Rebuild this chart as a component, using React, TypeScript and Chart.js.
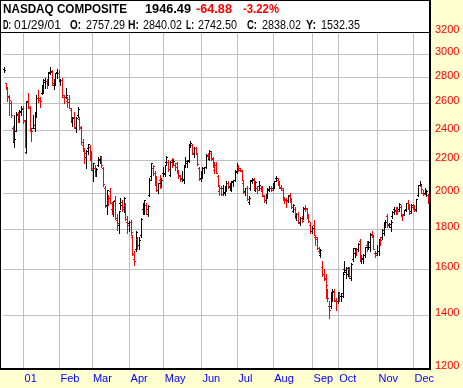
import React, { useEffect, useRef } from "react";
import { Chart, registerables } from "chart.js";

Chart.register(...registerables);

// Trading days (MM/DD/YY), 13 Dec 2000 .. 13 Dec 2001
const dates = [
  "12/13/00","12/14/00","12/15/00","12/18/00","12/19/00","12/20/00","12/21/00","12/22/00","12/26/00","12/27/00","12/28/00","12/29/00",
  "01/02/01","01/03/01","01/04/01","01/05/01","01/08/01","01/09/01","01/10/01","01/11/01","01/12/01","01/16/01","01/17/01","01/18/01","01/19/01","01/22/01","01/23/01","01/24/01","01/25/01","01/26/01","01/29/01","01/30/01","01/31/01",
  "02/01/01","02/02/01","02/05/01","02/06/01","02/07/01","02/08/01","02/09/01","02/12/01","02/13/01","02/14/01","02/15/01","02/16/01","02/20/01","02/21/01","02/22/01","02/23/01","02/26/01","02/27/01","02/28/01",
  "03/01/01","03/02/01","03/05/01","03/06/01","03/07/01","03/08/01","03/09/01","03/12/01","03/13/01","03/14/01","03/15/01","03/16/01","03/19/01","03/20/01","03/21/01","03/22/01","03/23/01","03/26/01","03/27/01","03/28/01","03/29/01","03/30/01",
  "04/02/01","04/03/01","04/04/01","04/05/01","04/06/01","04/09/01","04/10/01","04/11/01","04/12/01","04/16/01","04/17/01","04/18/01","04/19/01","04/20/01","04/23/01","04/24/01","04/25/01","04/26/01","04/27/01","04/30/01",
  "05/01/01","05/02/01","05/03/01","05/04/01","05/07/01","05/08/01","05/09/01","05/10/01","05/11/01","05/14/01","05/15/01","05/16/01","05/17/01","05/18/01","05/21/01","05/22/01","05/23/01","05/24/01","05/25/01","05/29/01","05/30/01","05/31/01",
  "06/01/01","06/04/01","06/05/01","06/06/01","06/07/01","06/08/01","06/11/01","06/12/01","06/13/01","06/14/01","06/15/01","06/18/01","06/19/01","06/20/01","06/21/01","06/22/01","06/25/01","06/26/01","06/27/01","06/28/01","06/29/01",
  "07/02/01","07/03/01","07/05/01","07/06/01","07/09/01","07/10/01","07/11/01","07/12/01","07/13/01","07/16/01","07/17/01","07/18/01","07/19/01","07/20/01","07/23/01","07/24/01","07/25/01","07/26/01","07/27/01","07/30/01","07/31/01",
  "08/01/01","08/02/01","08/03/01","08/06/01","08/07/01","08/08/01","08/09/01","08/10/01","08/13/01","08/14/01","08/15/01","08/16/01","08/17/01","08/20/01","08/21/01","08/22/01","08/23/01","08/24/01","08/27/01","08/28/01","08/29/01","08/30/01","08/31/01",
  "09/04/01","09/05/01","09/06/01","09/07/01","09/10/01","09/17/01","09/18/01","09/19/01","09/20/01","09/21/01","09/24/01","09/25/01","09/26/01","09/27/01","09/28/01",
  "10/01/01","10/02/01","10/03/01","10/04/01","10/05/01","10/08/01","10/09/01","10/10/01","10/11/01","10/12/01","10/15/01","10/16/01","10/17/01","10/18/01","10/19/01","10/22/01","10/23/01","10/24/01","10/25/01","10/26/01","10/29/01","10/30/01","10/31/01",
  "11/01/01","11/02/01","11/05/01","11/06/01","11/07/01","11/08/01","11/09/01","11/12/01","11/13/01","11/14/01","11/15/01","11/16/01","11/19/01","11/20/01","11/21/01","11/23/01","11/26/01","11/27/01","11/28/01","11/29/01","11/30/01",
  "12/03/01","12/04/01","12/05/01","12/06/01","12/07/01","12/10/01","12/11/01","12/12/01","12/13/01",
];

const opens = [
  2870,2755,2710,2650,2600,2420,2320,2400,2510,2480,2530,2560,
  2474,2255,2610,2570,2400,2420,2420,2510,2640,2640,2680,2700,2780,2770,2760,2850,2850,2740,2757.29,2850,2840,
  2770,2780,2650,2650,2620,2630,2550,2470,2500,2420,2510,2480,2420,2300,2270,2220,2280,2290,2220,
  2140,2150,2130,2170,2210,2220,2150,2030,1930,1960,2010,1910,1900,1960,1850,1820,1940,1950,1910,1930,1840,1830,
  1840,1760,1650,1700,1750,1720,1770,1910,1890,1930,1880,1990,2100,2150,2120,2060,2020,2080,2060,2120,
  2120,2190,2190,2110,2200,2200,2170,2180,2130,2100,2090,2080,2170,2180,2200,2310,2300,2250,2280,2240,2150,2090,
  2110,2150,2160,2230,2210,2250,2210,2140,2170,2100,2010,2030,2030,2000,2030,2060,2040,2020,2070,2080,2130,
  2160,2140,2130,2060,2010,2030,1950,2030,2070,2080,2020,2030,2040,2030,2030,1980,1960,1990,2020,2030,2030,
  2040,2090,2080,2060,2030,2020,1960,1960,1960,1990,1960,1900,1910,1870,1880,1840,1860,1860,1910,1910,1870,1820,1790,
  1820,1760,1750,1690,1670,1610,1580,1560,1500,1440,1440,1500,1500,1460,1460,
  1490,1480,1480,1600,1590,1580,1600,1560,1650,1680,1690,1700,1740,1640,1650,1670,1720,1710,1710,1770,1760,1680,1680,
  1690,1740,1760,1780,1820,1870,1820,1810,1870,1910,1900,1910,1910,1920,1870,1880,1910,1940,1920,1900,1920,
  1910,1910,1990,2050,2040,2000,2000,2010,1990,
];

const highs = [
  2885,2760,2720,2660,2620,2430,2510,2530,2530,2550,2580,2580,
  2474,2618,2680,2580,2420,2510,2530,2660,2700,2650,2740,2790,2800,2790,2850,2892,2860,2790,2840.02,2870,2860,
  2790,2800,2660,2720,2650,2660,2560,2500,2530,2500,2570,2500,2430,2340,2280,2270,2310,2300,2260,
  2185,2170,2150,2220,2230,2230,2160,2040,2015,1990,2030,1950,1955,1980,1880,1900,1970,1960,1975,1940,1870,1845,
  1850,1770,1690,1790,1760,1760,1860,1940,1962,1940,1930,2090,2184,2170,2130,2100,2060,2110,2090,2160,
  2170,2230,2200,2195,2215,2210,2185,2190,2140,2110,2130,2170,2220,2200,2310,2330,2310,2290,2290,2250,2160,2130,
  2160,2160,2240,2250,2265,2260,2220,2190,2190,2110,2050,2040,2050,2040,2070,2070,2060,2070,2080,2140,2180,
  2170,2150,2140,2070,2030,2040,1980,2080,2090,2090,2070,2040,2070,2040,2040,1990,1995,2030,2040,2040,2060,
  2070,2100,2090,2070,2050,2030,1975,1970,1990,2000,1970,1935,1920,1885,1890,1865,1870,1920,1930,1915,1880,1840,1815,
  1850,1770,1760,1710,1700,1640,1600,1580,1510,1460,1500,1510,1510,1470,1500,
  1500,1495,1590,1640,1610,1610,1610,1630,1705,1705,1700,1730,1750,1670,1675,1710,1740,1740,1780,1790,1770,1690,1720,
  1750,1760,1800,1840,1850,1880,1835,1850,1895,1920,1920,1920,1940,1930,1880,1905,1945,1960,1935,1935,1935,
  1925,1965,2050,2070,2050,2020,2030,2020,1995,
];

const lows = [
  2845,2720,2615,2510,2500,2320,2290,2400,2460,2460,2510,2450,
  2288,2251,2560,2400,2330,2420,2400,2500,2610,2570,2670,2680,2720,2720,2740,2830,2740,2710,2742.5,2800,2770,
  2740,2650,2600,2640,2570,2560,2460,2430,2420,2390,2500,2410,2310,2260,2180,2150,2240,2200,2140,
  2070,2100,2100,2165,2180,2160,2040,1920,1880,1930,1940,1880,1870,1855,1795,1780,1910,1900,1890,1850,1780,1790,
  1770,1670,1619,1690,1700,1700,1760,1880,1880,1880,1870,1980,2080,2110,2050,2010,2000,2030,2040,2100,
  2100,2170,2130,2100,2160,2170,2140,2120,2090,2070,2070,2060,2160,2160,2190,2290,2240,2220,2240,2170,2080,2070,
  2090,2120,2150,2210,2200,2200,2160,2120,2120,2040,1990,1990,1990,1990,2010,2030,2020,2010,2040,2070,2120,
  2130,2130,2080,2000,1990,1960,1935,2020,2060,2020,2010,2000,2020,2010,1980,1950,1940,1970,2010,2010,2020,
  2030,2070,2050,2030,2020,1960,1940,1920,1950,1950,1915,1890,1860,1850,1830,1820,1840,1855,1900,1860,1840,1780,1780,
  1770,1720,1700,1680,1660,1570,1550,1470,1460,1387,1430,1460,1460,1420,1450,
  1460,1460,1475,1590,1560,1570,1560,1550,1640,1660,1670,1690,1640,1630,1630,1660,1690,1700,1690,1760,1700,1660,1670,
  1670,1720,1750,1770,1810,1810,1810,1790,1860,1880,1880,1880,1900,1875,1850,1875,1900,1910,1880,1885,1910,
  1895,1900,1980,2040,2000,1990,1995,1985,1940,
];

const closes = [
  2860,2728.51,2653.27,2624.52,2511.71,2332.78,2340.12,2517.02,2493.52,2539.35,2557.76,2470.52,
  2291.86,2616.69,2566.83,2407.65,2395.92,2441.3,2524.18,2640.57,2626.5,2618.55,2682.78,2768.49,2770.38,2757.91,2840.39,2859.15,2754.28,2781.3,2838.02,2838.34,2772.73,
  2782.79,2660.5,2643.21,2664.49,2607.82,2562.06,2470.97,2489.66,2427.72,2491.4,2552.91,2425.38,2318.35,2268.94,2244.96,2262.51,2308.5,2207.82,2151.83,
  2183.37,2117.63,2142.92,2204.43,2223.92,2168.73,2052.78,1923.38,2014.78,1972.09,1940.71,1890.91,1951.18,1857.44,1830.23,1897.7,1928.68,1918.49,1972.26,1854.13,1820.57,1840.26,
  1782.97,1673,1638.8,1785,1720.36,1745.71,1852.03,1898.95,1961.43,1909.57,1923.22,2079.44,2182.14,2163.41,2059.32,2016.61,2059.8,2034.88,2075.68,2116.24,
  2168.24,2220.6,2146.2,2191.53,2173.57,2198.77,2156.63,2128.86,2107.43,2081.92,2085.58,2166.44,2193.68,2198.88,2305.59,2313.85,2243.48,2282.02,2251.03,2175.54,2084.5,2110.49,
  2149.44,2155.93,2233.66,2217.73,2264,2215.1,2170.78,2169.95,2122.76,2044.07,2028.43,1992.66,2007.09,2031.26,2058.76,2034.84,2050.87,2064.62,2074.74,2125.46,2160.54,
  2148.72,2140.8,2080.11,2004.16,2026.71,1962.79,1972.04,2075.74,2084.79,2029.12,2067.32,2016.17,2046,2029.37,1988.56,1959.24,1993.06,2022.25,2029.07,2017.13,2027.13,
  2068.38,2087.38,2066.33,2034.26,2027.79,1966.36,1963.32,1956.47,1982.25,1964,1918.89,1930.32,1867.01,1881.35,1831.3,1860.01,1842.97,1916.8,1912.41,1864.98,1843.17,1791.68,1805.43,
  1770.77,1759,1705.64,1687.7,1695.38,1579.55,1555.08,1527.8,1470.93,1423.19,1499.4,1501.64,1464.04,1460.71,1498.8,
  1480.46,1492.33,1580.81,1597.31,1605.3,1605.95,1570.19,1626.26,1701.47,1703.4,1696.31,1722.07,1646.34,1652.72,1671.31,1708.08,1704.44,1731.54,1775.47,1768.96,1699.52,1667.41,1690.2,
  1746.3,1745.73,1793.65,1835.08,1837.53,1827.77,1828.48,1840.13,1892.09,1903.19,1900.57,1898.58,1934.42,1880.51,1875.05,1903.2,1941.23,1935.97,1887.97,1933.26,1930.58,
  1904.9,1963.53,2046.84,2054.27,2021.26,1992.12,2001.93,2011.37,1946.49,
];

const yTicks = [1200, 1400, 1600, 1800, 2000, 2200, 2400, 2600, 2800, 3000, 3200];
const monthLabels = ["01", "Feb", "Mar", "Apr", "May", "Jun", "Jul", "Aug", "Sep", "Oct", "Nov", "Dec"];

const FONT = '"Liberation Sans", Arial, sans-serif';
const UP = "#000000";
const DOWN = "#ff0000";
const GRID = "#c0c0c0";

function isMonthStart(i: any): boolean {
  if (typeof i !== "number" || !Number.isInteger(i)) return false;
  if (i <= 0 || i >= dates.length) return false;
  const a = dates[i];
  const b = dates[i - 1];
  if (!a || !b) return false;
  return a.slice(0, 2) !== b.slice(0, 2);
}

function monthLabelAt(i: any): string {
  if (!isMonthStart(i)) return "";
  return monthLabels[parseInt(dates[i].slice(0, 2), 10) - 1];
}

export default function App() {
  const ref = useRef<HTMLCanvasElement>(null);

  useEffect(() => {
    document.body.style.margin = "0";
    const n = Math.min(dates.length, opens.length, highs.length, lows.length, closes.length);

    const ohlcPlugin = {
      id: "ohlc",
      beforeDraw(chart: any) {
        const ctx = chart.ctx;
        ctx.save();
        ctx.fillStyle = "#ffffff";
        ctx.fillRect(0, 0, 430, 369);
        ctx.restore();
      },
      afterDatasetsDraw(chart: any) {
        const ctx = chart.ctx;
        const xs = chart.scales.x;
        const ys = chart.scales.y;
        ctx.save();
        for (let i = 0; i < n; i++) {
          const x = Math.round(xs.getPixelForValue(i));
          const yh = Math.round(ys.getPixelForValue(highs[i]));
          const yl = Math.round(ys.getPixelForValue(lows[i]));
          const yo = Math.round(ys.getPixelForValue(opens[i]));
          const yc = Math.round(ys.getPixelForValue(closes[i]));
          const down = i > 0 && closes[i] < closes[i - 1];
          ctx.fillStyle = down ? DOWN : UP;
          ctx.fillRect(x, yh, 1, Math.max(1, yl - yh + 1));
          ctx.fillRect(x - 1, yo, 1, 1);
          ctx.fillRect(x + 1, yc, 1, 1);
        }
        ctx.restore();
      },
      afterDraw(chart: any) {
        const ctx = chart.ctx;
        ctx.save();
        ctx.fillStyle = "#000000";
        ctx.fillRect(0, 0, 1, 370);
        ctx.fillRect(0, 0, 431, 1);
        ctx.fillRect(0, 32, 430, 1);
        ctx.fillRect(429, 0, 2, 370);
        ctx.fillRect(0, 368, 431, 2);
        ctx.restore();
      },
    };

    const chart = new Chart(ref.current as HTMLCanvasElement, {
      type: "bar",
      data: {
        labels: dates.slice(0, n),
        datasets: [
          {
            data: lows.slice(0, n).map((l, i) => [l, highs[i]]) as any,
            backgroundColor: "rgba(0,0,0,0)",
            borderWidth: 0,
          },
        ],
      },
      options: {
        responsive: false,
        animation: false,
        devicePixelRatio: 1,
        events: [],
        layout: { padding: { top: 32, left: 1, right: 0, bottom: 0 } },
        plugins: { legend: { display: false }, tooltip: { enabled: false } },
        scales: {
          x: {
            type: "category",
            offset: true,
            grid: {
              offset: true,
              drawTicks: false,
              lineWidth: 1,
              color: (c: any) => (c && isMonthStart(c.index) ? GRID : "rgba(0,0,0,0)"),
            },
            border: { display: false },
            ticks: {
              autoSkip: false,
              maxRotation: 0,
              minRotation: 0,
              align: "start",
              padding: 4,
              color: "#0000ff",
              font: { family: FONT, size: 11 },
              callback: (_v: any, i: number) => monthLabelAt(i),
            },
            afterFit: (s: any) => {
              s.height = 20;
            },
          },
          y: {
            type: "logarithmic",
            position: "right",
            min: 1200,
            max: 3200,
            afterBuildTicks: (s: any) => {
              s.ticks = yTicks.map((v) => ({ value: v }));
            },
            grid: { color: GRID, drawTicks: false, lineWidth: 1 },
            border: { display: false },
            ticks: {
              autoSkip: false,
              padding: 6,
              labelOffset: -2,
              color: "#ff0000",
              font: { family: FONT, size: 11 },
              callback: (v: any) => String(v),
            },
            afterFit: (s: any) => {
              s.width = 34;
            },
          },
        },
      } as any,
      plugins: [ohlcPlugin],
    });

    return () => chart.destroy();
  }, []);

  const bold = { fontWeight: 700 as const };
  const fit = "spacingAndGlyphs";
  return (
    <div style={{ position: "relative", width: 463, height: 388, background: "#ffffd0", overflow: "hidden" }}>
      <canvas
        ref={ref}
        width={463}
        height={388}
        style={{ position: "absolute", left: 0, top: 0, width: 463, height: 388 }}
      />
      <svg
        width={430}
        height={32}
        style={{ position: "absolute", left: 0, top: 0, pointerEvents: "none" }}
        fontFamily={FONT}
      >
        <text x={3} y={13} fontSize={13} style={bold} textLength={124} lengthAdjust={fit} fill="#000">NASDAQ COMPOSITE</text>
        <text x={145} y={13} fontSize={13} style={bold} textLength={46} lengthAdjust={fit} fill="#000">1946.49</text>
        <text x={196} y={13} fontSize={13} style={bold} textLength={36} lengthAdjust={fit} fill="#ff0000">-64.88</text>
        <text x={243} y={13} fontSize={13} style={bold} textLength={36} lengthAdjust={fit} fill="#ff0000">-3.22%</text>

        <text x={3} y={29} fontSize={12} style={bold} textLength={8} lengthAdjust={fit} fill="#000">D:</text>
        <text x={14} y={29} fontSize={12} textLength={47} lengthAdjust={fit} fill="#000">01/29/01</text>
        <text x={70} y={29} fontSize={12} style={bold} textLength={11} lengthAdjust={fit} fill="#000">O:</text>
        <text x={86} y={29} fontSize={12} textLength={39} lengthAdjust={fit} fill="#000">2757.29</text>
        <text x={128} y={29} fontSize={12} style={bold} textLength={11} lengthAdjust={fit} fill="#000">H:</text>
        <text x={143} y={29} fontSize={12} textLength={39} lengthAdjust={fit} fill="#000">2840.02</text>
        <text x={186} y={29} fontSize={12} style={bold} textLength={8} lengthAdjust={fit} fill="#000">L:</text>
        <text x={198} y={29} fontSize={12} textLength={39} lengthAdjust={fit} fill="#000">2742.50</text>
        <text x={247} y={29} fontSize={12} style={bold} textLength={10} lengthAdjust={fit} fill="#000">C:</text>
        <text x={262} y={29} fontSize={12} textLength={39} lengthAdjust={fit} fill="#000">2838.02</text>
        <text x={306} y={29} fontSize={12} style={bold} textLength={10} lengthAdjust={fit} fill="#000">Y:</text>
        <text x={321} y={29} fontSize={12} textLength={39} lengthAdjust={fit} fill="#000">1532.35</text>
      </svg>
    </div>
  );
}
